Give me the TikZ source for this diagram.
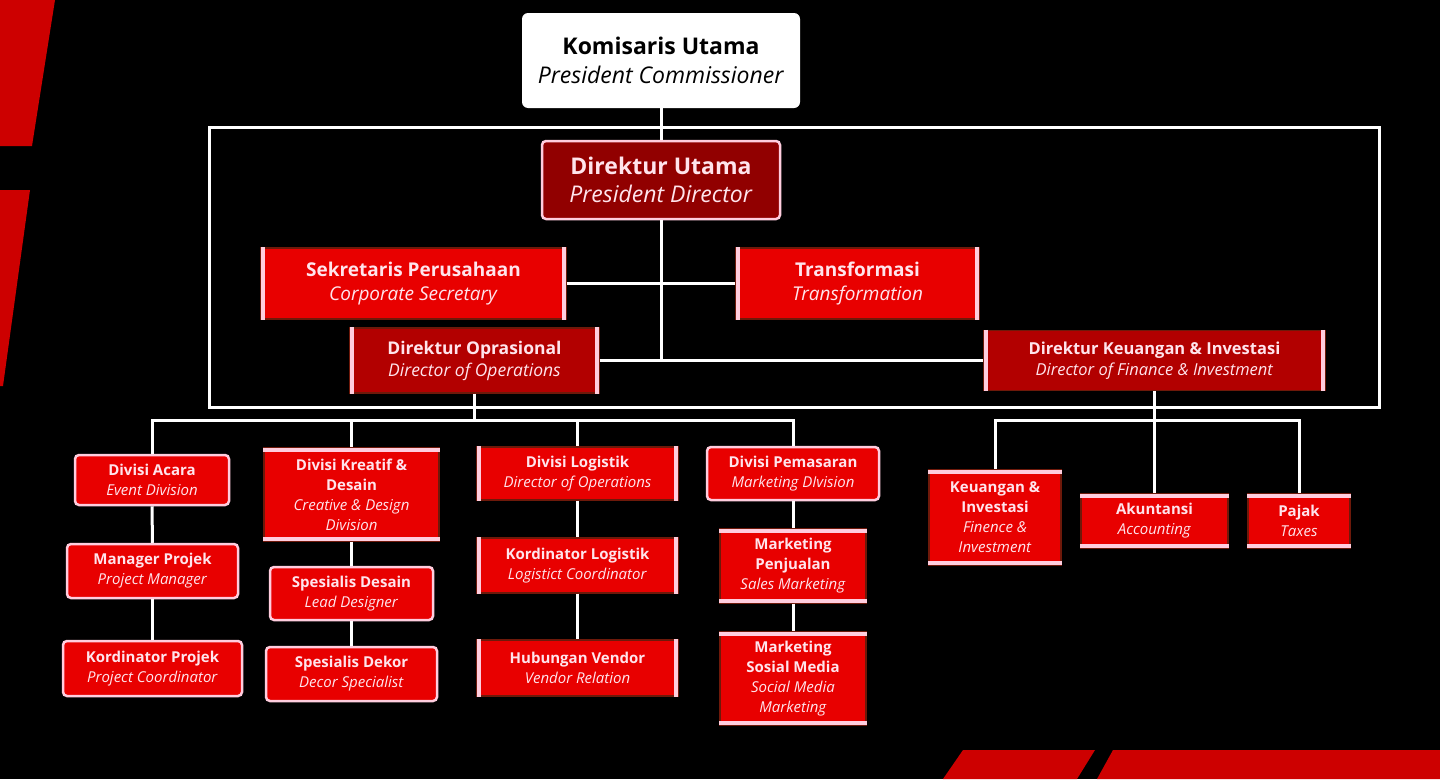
\documentclass[tikz,border=0pt]{standalone}
\usepackage{fontspec}
\setmainfont{Open Sans}
\usetikzlibrary{positioning}
\definecolor{boxred}{RGB}{232, 0, 0}
\definecolor{headred}{RGB}{145, 0, 0}
\definecolor{dirred}{RGB}{178, 0, 0}
\definecolor{edgered}{RGB}{110, 25, 10}
\definecolor{decored}{RGB}{205, 0, 0}
\definecolor{barpink}{RGB}{255, 205, 222}
\definecolor{txtpink}{RGB}{255, 228, 236}

\begin{document}
\begin{tikzpicture}[x=1pt, y=-1pt,
            % Define reusable styles for boxes and connectors
            box/.style={fill=boxred, draw=edgered, line width=1.2pt, inner sep=0pt,
                align=center, text=txtpink, font=\fontsize{15}{20}\selectfont},
            roundbox/.style={box, draw=barpink, line width=2.5pt, rounded corners=4pt},
            lrbox/.style={box},
            tbbox/.style={box},
            bar/.style={barpink, line width=4pt},
            link/.style={white, line width=3pt},
            frame/.style={white, line width=3pt}
        ]

        \useasboundingbox (0,0) rectangle (1440,779);
        \fill[black] (0,0) rectangle (1440,779);

        % Red corner decorations
        \fill[decored] (0,0) -- (55,0) -- (32,146) -- (0,146) -- cycle;
        \fill[decored] (0,190) -- (30,190) -- (3,386) -- (0,386) -- cycle;
        \fill[decored] (963,750) -- (1095,750) -- (1077,779) -- (943,779) -- cycle;
        \fill[decored] (1113,750) -- (1440,750) -- (1440,779) -- (1097,779) -- cycle;

        \draw[frame] (209,127) rectangle (1379,407);

        % Board and directors
        \node[fill=white, rounded corners=6pt, minimum width=278pt, minimum height=95pt,
            inner sep=0pt, align=center, font=\fontsize{23}{29}\selectfont]
            (komisaris) at (661,60.5) {\textbf{Komisaris Utama}\\\textit{President Commissioner}};
        \node[roundbox, fill=headred, minimum width=238pt, minimum height=78pt,
            font=\fontsize{23}{28}\selectfont]
            (dirut) at (661,180) {\textbf{Direktur Utama}\\\textit{President Director}};
        \node[lrbox, minimum width=305pt, minimum height=71pt, font=\fontsize{19}{24}\selectfont]
            (sekre) at (413.5,283.5) {\textbf{Sekretaris Perusahaan}\\\textit{Corporate Secretary}};
        \node[lrbox, minimum width=243pt, minimum height=71pt, font=\fontsize{19}{24}\selectfont]
            (transf) at (857.5,283.5) {\textbf{Transformasi}\\\textit{Transformation}};
        \node[lrbox, fill=dirred, minimum width=249pt, minimum height=65pt, font=\fontsize{17.5}{22}\selectfont]
            (diropr) at (474.5,360.5) {\textbf{Direktur Oprasional}\\\textit{Director of Operations}};
        \node[lrbox, fill=dirred, minimum width=341pt, minimum height=60pt, font=\fontsize{16.5}{21}\selectfont]
            (dirkeu) at (1154.5,360.5) {\textbf{Direktur Keuangan \& Investasi}\\\textit{Director of Finance \& Investment}};

        % Divisions under operations
        \node[roundbox, minimum width=154pt, minimum height=50pt] (acara) at (152,480)
            {\textbf{Divisi Acara}\\\textit{Event Division}};
        \node[roundbox, minimum width=171pt, minimum height=54pt] (manager) at (152.5,571)
            {\textbf{Manager Projek}\\\textit{Project Manager}};
        \node[roundbox, minimum width=179pt, minimum height=55pt] (kordproj) at (152.5,668.5)
            {\textbf{Kordinator Projek}\\\textit{Project Coordinator}};

        \node[tbbox, minimum width=175pt, minimum height=93pt] (kreatif) at (351.5,494.5)
            {\textbf{Divisi Kreatif \&}\\\textbf{Desain}\\\textit{Creative \& Design}\\\textit{Division}};
        \node[roundbox, minimum width=163pt, minimum height=53pt] (desain) at (351.5,593.5)
            {\textbf{Spesialis Desain}\\\textit{Lead Designer}};
        \node[roundbox, minimum width=171pt, minimum height=54pt] (dekor) at (351.5,674)
            {\textbf{Spesialis Dekor}\\\textit{Decor Specialist}};

        \node[lrbox, minimum width=201pt, minimum height=53pt] (logistik) at (577.5,473.5)
            {\textbf{Divisi Logistik}\\\textit{Director of Operations}};
        \node[lrbox, minimum width=201pt, minimum height=55pt] (kordlog) at (577.5,565.5)
            {\textbf{Kordinator Logistik}\\\textit{Logistict Coordinator}};
        \node[lrbox, minimum width=201pt, minimum height=56pt] (vendor) at (577.5,668)
            {\textbf{Hubungan Vendor}\\\textit{Vendor Relation}};

        \node[roundbox, minimum width=172pt, minimum height=53pt] (pemasaran) at (793,473.5)
            {\textbf{Divisi Pemasaran}\\\textit{Marketing DIvision}};
        \node[tbbox, minimum width=146pt, minimum height=74pt] (penjualan) at (793,566)
            {\textbf{Marketing}\\\textbf{Penjualan}\\\textit{Sales Marketing}};
        \node[tbbox, minimum width=146pt, minimum height=93pt] (sosmed) at (793,678.5)
            {\textbf{Marketing}\\\textbf{Sosial Media}\\\textit{Social Media}\\\textit{Marketing}};

        % Divisions under finance
        \node[tbbox, minimum width=132pt, minimum height=95pt] (keuangan) at (995,517.5)
            {\textbf{Keuangan \&}\\\textbf{Investasi}\\\textit{Finence \&}\\\textit{Investment}};
        \node[tbbox, minimum width=147pt, minimum height=54pt] (akuntansi) at (1154.5,521)
            {\textbf{Akuntansi}\\\textit{Accounting}};
        \node[tbbox, minimum width=102pt, minimum height=54pt] (pajak) at (1299,521)
            {\textbf{Pajak}\\\textit{Taxes}};

        % Side bars and top/bottom bars
        \foreach \n in {sekre, transf, diropr, dirkeu, logistik, kordlog, vendor} {
            \draw[bar] ([xshift=3pt]\n.north west) -- ([xshift=3pt]\n.south west)
                ([xshift=-3pt]\n.north east) -- ([xshift=-3pt]\n.south east);
        }
        \foreach \n in {kreatif, penjualan, sosmed, keuangan, akuntansi, pajak} {
            \draw[bar] ([yshift=-3pt]\n.north west) -- ([yshift=-3pt]\n.north east)
                ([yshift=3pt]\n.south west) -- ([yshift=3pt]\n.south east);
        }

        % Connectors
        \coordinate (opsbus) at (474.5,420);
        \coordinate (keubus) at (1154.5,420);
        \draw[link] (komisaris) -- (dirut);
        \draw[link] (dirut) -- (dirut |- diropr);
        \draw[link] (sekre) -- (transf);
        \draw[link] (diropr) -- (dirkeu);
        \draw[link] (diropr) -- (opsbus);
        \draw[link] (dirkeu) -- (keubus);
        \foreach \n in {acara, kreatif, logistik, pemasaran} {
            \draw[link] (opsbus) -| (\n.north);
        }
        \foreach \n in {keuangan, akuntansi, pajak} {
            \draw[link] (keubus) -| (\n.north);
        }
        \draw[link] (acara) -- (manager);
        \draw[link] (manager) -- (kordproj);
        \draw[link] (kreatif) -- (desain);
        \draw[link] (desain) -- (dekor);
        \draw[link] (logistik) -- (kordlog);
        \draw[link] (kordlog) -- (vendor);
        \draw[link] (pemasaran) -- (penjualan);
        \draw[link] (penjualan) -- (sosmed);

\end{tikzpicture}
\end{document}
